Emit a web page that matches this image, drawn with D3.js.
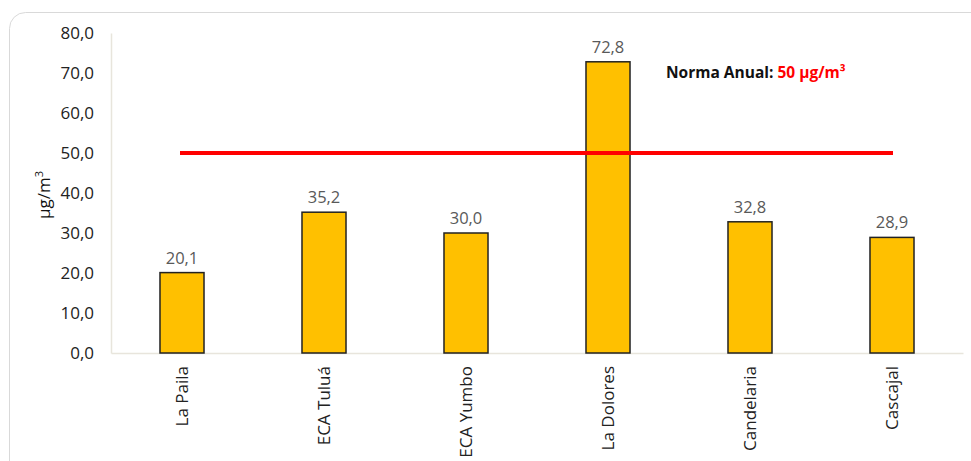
<!DOCTYPE html>
<html><head><meta charset="utf-8">
<script src="https://cdn.jsdelivr.net/npm/d3@7"></script>
<style>body{margin:0;background:#fff;}svg{display:block;font-family:"Open Sans","Noto Sans",sans-serif;}</style>
</head><body>
<svg id="c" width="971" height="461"></svg>
<script>
const categories = ["La Paila","ECA Tuluá","ECA Yumbo","La Dolores","Candelaria","Cascajal"];
const values = [20.1, 35.2, 30.0, 72.8, 32.8, 28.9];
const normValue = 50;
const yTicks = [0,10,20,30,40,50,60,70,80];

const svg = d3.select("#c");
const m = {left:111, right:963, top:33, bottom:353};
const FONT = "'Open Sans','Noto Sans',sans-serif";

svg.append("rect").attr("x",9.5).attr("y",12.5).attr("width",990).attr("height",480)
  .attr("rx",16).attr("fill","#fff").attr("stroke","#d9d9d9").attr("stroke-width",1);

const x = d3.scaleBand().domain(categories).range([m.left,m.right]).paddingInner(0.69).paddingOuter(0.345);
const y = d3.scaleLinear().domain([0,80]).range([m.bottom,m.top]);
const fmt = v => d3.format(".1f")(v).replace(".",",");

// axes
const ya = svg.append("g").attr("transform",`translate(${m.left},0)`)
  .call(d3.axisLeft(y).tickValues(yTicks).tickFormat(fmt).tickSize(0).tickPadding(17));
ya.attr("font-family",FONT);
ya.select(".domain").attr("stroke","#e8e5dc").attr("stroke-width",1.5);
ya.selectAll("text").attr("font-size",17).attr("fill","#222");

const xa = svg.append("g").attr("transform",`translate(0,${m.bottom})`)
  .call(d3.axisBottom(x).tickSize(0).tickPadding(0));
xa.attr("font-family",FONT);
xa.select(".domain").attr("stroke","#e8e5dc").attr("stroke-width",1.5);
xa.selectAll("text").attr("font-size",17).attr("fill","#222")
  .attr("transform","rotate(-90)").attr("text-anchor","end").attr("dy","0.35em").attr("dx","-13").attr("y",0);

// bars
svg.append("g").selectAll("rect").data(values).join("rect")
  .attr("x",(d,i)=>x(categories[i]))
  .attr("y",d=>y(d))
  .attr("width",x.bandwidth())
  .attr("height",d=>y(0)-y(d))
  .attr("fill","#FFC000").attr("stroke","#222").attr("stroke-width",1.5);

// labels
svg.append("g").selectAll("text").data(values).join("text")
  .attr("x",(d,i)=>x(categories[i])+x.bandwidth()/2)
  .attr("y",d=>y(d)-9)
  .attr("text-anchor","middle").attr("font-size",16.5).attr("fill","#595959")
  .text(d=>fmt(d));

// norm line
const xc = c => x(c)+x.bandwidth()/2;
svg.append("line")
  .attr("x1",xc(categories[0])-2).attr("x2",xc(categories[categories.length-1])+1)
  .attr("y1",y(normValue)).attr("y2",y(normValue))
  .attr("stroke","#FF0000").attr("stroke-width",4);

// legend text
const t = svg.append("text").attr("x",666).attr("y",78).attr("font-size",15.5).attr("font-weight","bold");
t.append("tspan").attr("fill","#111").text("Norma Anual: ");
t.append("tspan").attr("fill","#FF0000").text("50 µg/m³");

// y title
svg.append("text").attr("transform","translate(50,195) rotate(-90)")
  .attr("text-anchor","middle").attr("font-size",17).attr("fill","#111")
  .html('µg/m<tspan baseline-shift="super" font-size="11">3</tspan>');
</script>
</body></html>
